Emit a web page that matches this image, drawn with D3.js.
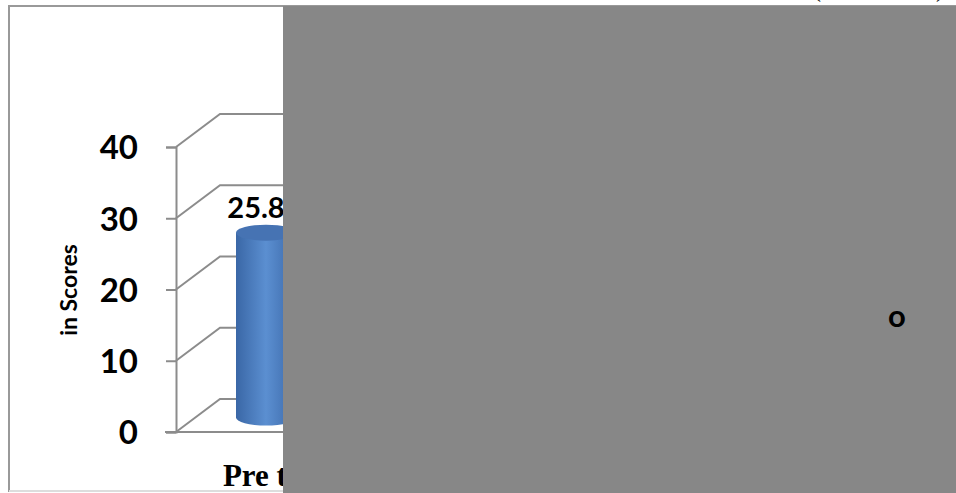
<!DOCTYPE html>
<html>
<head>
<meta charset="utf-8">
<script src="https://cdn.jsdelivr.net/npm/d3@7"></script>
<style>
  html, body { margin: 0; padding: 0; background: #fff; }
  svg { display: block; }
</style>
</head>
<body>
<div id="chart"></div>
<script>
// chart values
const categories = ["Pre test"];
const values = [25.8];
const yTicks = [0, 10, 20, 30, 40];
const yTitle = "in Scores";
const stray = ["o"]; // legend fragment left over on the grey panel

const W = 956, H = 493;
const depth = { dx: 44, dy: -33 }; // 3d wall offset
const sans = "Lato, 'Open Sans', sans-serif";

const svg = d3.select("#chart").append("svg")
  .attr("width", W)
  .attr("height", H);

const defs = svg.append("defs");
let grad = defs.append("linearGradient").attr("id", "cyl").attr("x1", 0).attr("x2", 1);
grad.append("stop").attr("offset", "0%").attr("stop-color", "#3a67a6");
grad.append("stop").attr("offset", "50%").attr("stop-color", "#5b8fd1");
grad.append("stop").attr("offset", "100%").attr("stop-color", "#3b68a8");

// outer chart frame
svg.append("rect")
  .attr("x", 9).attr("y", 6)
  .attr("width", W).attr("height", 485)
  .attr("fill", "#fff")
  .attr("stroke", "#999")
  .attr("stroke-width", 2);
svg.append("line")
  .attr("x1", 9).attr("x2", W).attr("y1", 491).attr("y2", 491)
  .attr("stroke", "#ddd").attr("stroke-width", 2);

const y = d3.scaleLinear().domain([0, 40]).range([432, 147]);
const x = d3.scaleBand().domain(categories).range([182, 364]);

const axisX = 176;
const grid = svg.append("g").attr("class", "grid");

// back wall gridlines with side wall diagonals
yTicks.forEach(t => {
  let yy = y(t);
  grid.append("path")
    .attr("d", `M${axisX},${yy} L${axisX + depth.dx},${yy + depth.dy} L${W},${yy + depth.dy}`)
    .attr("fill", "none")
    .attr("stroke", "#8c8c8c")
    .attr("stroke-width", 2);
});

// front floor edge
grid.append("line")
  .attr("x1", 165).attr("x2", W)
  .attr("y1", y(0)).attr("y2", y(0))
  .attr("stroke", "#8c8c8c").attr("stroke-width", 2);

// y axis
const yAxis = d3.axisLeft(y).tickValues(yTicks).tickSize(10).tickPadding(28);
const gy = svg.append("g")
  .attr("transform", `translate(${axisX},0)`)
  .call(yAxis);
gy.select(".domain").attr("stroke", "#8c8c8c").attr("stroke-width", 2);
gy.selectAll(".tick line").attr("stroke", "#8c8c8c").attr("stroke-width", 2);
gy.selectAll(".tick text")
  .attr("fill", "#000")
  .attr("dy", "0.36em")
  .style("font-family", sans)
  .style("font-weight", "bold")
  .style("font-size", "33px");

svg.append("text")
  .attr("transform", "translate(77,290) rotate(-90)")
  .attr("text-anchor", "middle")
  .style("font-family", sans)
  .style("font-weight", "bold")
  .style("font-size", "23px")
  .text(yTitle);

// cylinders
const rx = 30, ry = 8;
const bars = svg.selectAll(".bar")
  .data(categories.map((c, i) => ({ cat: c, value: values[i] })))
  .enter().append("g")
  .attr("class", "bar");

bars.each(function (d) {
  let g = d3.select(this);
  let cx = x(d.cat) + x.bandwidth() / 2 - 7;
  let base = y(0) + depth.dy / 2 + 2;
  let top = y(d.value) + depth.dy / 2 + 1;
  g.append("path")
    .attr("d", `M${cx - rx},${top} L${cx - rx},${base} A${rx},${ry} 0 0 0 ${cx + rx},${base} L${cx + rx},${top} Z`)
    .attr("fill", "url(#cyl)");
  g.append("ellipse")
    .attr("cx", cx).attr("cy", top)
    .attr("rx", rx).attr("ry", ry)
    .attr("fill", "#4673b3");
  g.append("text")
    .attr("x", cx - 10)
    .attr("y", top - 15)
    .attr("text-anchor", "middle")
    .style("font-family", sans)
    .style("font-weight", "bold")
    .style("font-size", "29px")
    .text(d.value);
});

// category labels
svg.selectAll(".cat")
  .data(categories)
  .enter().append("text")
  .attr("class", "cat")
  .attr("x", d => x(d) + x.bandwidth() / 2)
  .attr("y", 486)
  .attr("text-anchor", "middle")
  .style("font-family", "'Liberation Serif', 'Times New Roman', serif")
  .style("font-weight", "bold")
  .style("font-size", "31px")
  .text(d => d);

// grey panel covering the rest of the chart
svg.append("rect")
  .attr("x", 283).attr("y", 6)
  .attr("width", W - 283).attr("height", H - 6)
  .attr("fill", "#878787");

svg.append("text")
  .attr("x", 897).attr("y", 327)
  .attr("text-anchor", "middle")
  .style("font-family", sans)
  .style("font-weight", "bold")
  .style("font-size", "31px")
  .text(stray[0]);

// bottoms of the cut title brackets at the top edge
svg.append("text").attr("x", 817).attr("y", -3).attr("text-anchor", "middle")
  .style("font-family", "'Liberation Serif', serif").style("font-size", "24px").text("(");
svg.append("text").attr("x", 940).attr("y", -3).attr("text-anchor", "middle")
  .style("font-family", "'Liberation Serif', serif").style("font-size", "24px").text(")");
</script>
</body>
</html>
